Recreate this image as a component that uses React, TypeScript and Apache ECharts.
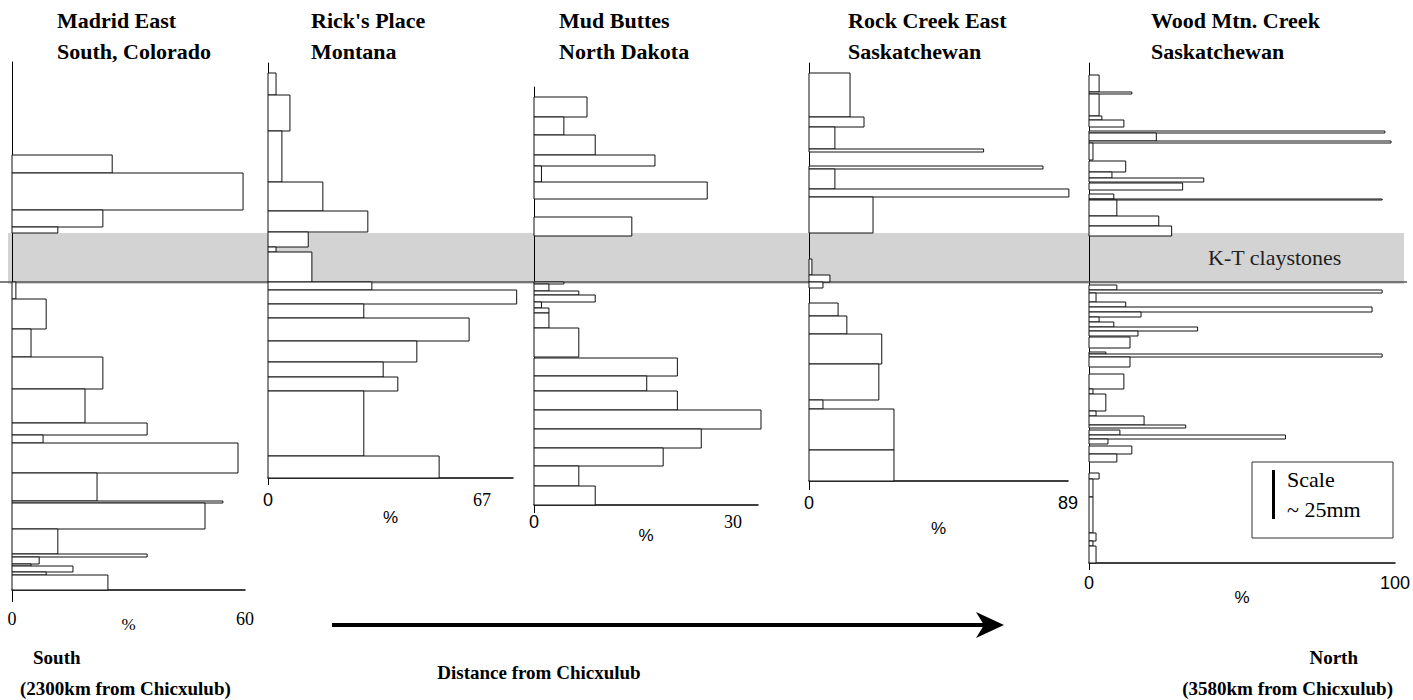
import React, { useEffect, useRef } from "react";
import * as echarts from "echarts";

// ---- data: each bar = [top height, base height, percent]; heights in units relative to the K-T boundary ----
const siteNames = [
  "Madrid East\nSouth, Colorado",
  "Rick's Place\nMontana",
  "Mud Buttes\nNorth Dakota",
  "Rock Creek East\nSaskatchewan",
  "Wood Mtn. Creek\nSaskatchewan",
];

const madridEast = [
  [63.5, 54.5, 25.8], [54.5, 36, 59.5], [36, 27.5, 23.4], [27.5, 24.5, 11.8],
  [0, -8.5, 1], [-8.5, -23.5, 8.8], [-23.5, -37.5, 4.9], [-37.5, -53.5, 23.4],
  [-53.5, -70.5, 18.8], [-70.5, -76.5, 34.8], [-76.5, -80.5, 8], [-80.5, -95.5, 58.2],
  [-95.5, -109.5, 21.9], [-109.5, -110.5, 54.3], [-110.5, -123.5, 49.7], [-123.5, -136, 11.8],
  [-136, -137.5, 34.8], [-137.5, -141, 7], [-141, -142, 4.9], [-142, -145, 15.7],
  [-145, -146.5, 8.8], [-146.5, -154, 24.7],
];

const ricksPlace = [
  [104.5, 93.5, 2.2], [93.5, 75.5, 6], [75.5, 50, 3.8], [50, 35.5, 15], [35.5, 25, 27.3],
  [25, 17.5, 11], [17.5, 15, 2.2], [15, 0, 12],
  [0, -4, 28.4], [-4, -11, 68], [-11, -18, 26.2], [-18, -29.5, 55], [-29.5, -40, 40.7],
  [-40, -47.5, 31.5], [-47.5, -54.5, 35.5], [-54.5, -87, 26.2], [-87, -98, 46.8],
];

const mudButtes = [
  [92.5, 82.5, 7.1], [82.5, 73.5, 4], [73.5, 63.5, 8.2], [63.5, 58, 16.2], [58, 50, 1],
  [50, 41.5, 23.2], [32.5, 23, 13.1],
  [0, -1, 4], [-1, -4.5, 2], [-4.5, -6.5, 6], [-6.5, -10, 8.2], [-10, -13, 1], [-13, -15.5, 2],
  [-15.5, -23, 2], [-23, -37.5, 6], [-38, -47, 19.2], [-47, -54.5, 15.1], [-54.5, -64, 19.2],
  [-64, -73.5, 30.4], [-73.5, -83, 22.4], [-83, -92, 17.3], [-92, -102, 6], [-102, -111.5, 8.2],
];

const rockCreekEast = [
  [104.5, 82.5, 14.1], [82.5, 77.5, 18.9], [77.5, 66.5, 8.9], [66.5, 65, 60], [58, 56.5, 80.4],
  [56.5, 46.5, 8.9], [46.5, 42.5, 89.3], [42.5, 24.5, 22], [11.5, 3.5, 1], [3.5, 0, 7.2],
  [0, -3, 4.8], [-10.5, -17, 10], [-17, -26, 13], [-26, -41, 25], [-41, -59, 24],
  [-59, -63.5, 4.8], [-63.5, -84, 29.2], [-84, -99.5, 29.2],
];

const woodMtnCreek = [
  [103.5, 95, 3.3], [95, 94, 14], [94, 83, 3.3], [83, 81, 4.2], [81, 77.5, 11.4],
  [75.5, 74.5, 96.7], [74.5, 70.5, 22], [70.5, 69.5, 98.7], [69.5, 61, 1.3], [60.5, 55, 12],
  [55, 52, 7.5], [52, 50, 37.5], [49.5, 46, 30.6], [44, 41.5, 8.1], [41.5, 41, 95.8],
  [41, 33, 9.1], [33, 28, 22.8], [28, 23, 27],
  [-1.5, -4, 9.1], [-4, -5.5, 95.8], [-5.5, -10, 2.3], [-10, -12.5, 12], [-12.5, -15, 92.5],
  [-15, -17.5, 17], [-17.5, -20, 3.3], [-20, -22.5, 8.1], [-22.5, -24.5, 35.5], [-24.5, -27, 16],
  [-27.5, -33, 13.4], [-35, -36, 5.5], [-36, -37.5, 95.8], [-37.5, -42.5, 13.4], [-46, -53.5, 11.4],
  [-53.5, -56, 1.3], [-56, -64.5, 5.5], [-64.5, -67, 2.3], [-67, -71.5, 18], [-71.5, -73, 31.6],
  [-74, -76.5, 10.1], [-76.5, -78.5, 64.2], [-78.5, -81, 6.2], [-82, -86, 14], [-86, -90, 9.1],
  [-95.5, -98.5, 3.3], [-98.5, -107.5, 1.3], [-107.5, -125.5, 1.3], [-125.5, -129.5, 2.3],
  [-129.5, -132, 1.3], [-132, -140.5, 2.3],
];

const siteData = [madridEast, ricksPlace, mudButtes, rockCreekEast, woodMtnCreek];
const axisTop = [110, 109.5, 97.5, 109.5, 109.5];
const axisBase = [-154, -98, -111.5, -99.5, -140.5];
const pctMax = [60, 67, 30, 89, 100];
const claystoneTop = 24.5;
const claystoneBase = -1;

// ---- layout ----
const KT_PX = 282;
const PX_PER_UNIT = 2;
const gridLeft = [12, 268, 534, 809, 1089];
const gridWidth = [233, 245, 224, 259, 307];
const titleLeft = [57, 311, 559, 848, 1151];
const labelMargin = [20, 13, 8, 13, 11];
const nameGap = [26, 31, 22, 39, 26];
const tickLen = [12, 7, 8, 9, 7];
const maxLabelPad = [0, 62, 50, 0, 0];
const zeroFont = ["Liberation Serif", "Liberation Sans", "Liberation Sans", "Liberation Sans", "Liberation Sans"];
const maxFont = ["Liberation Serif", "Liberation Serif", "Liberation Serif", "Liberation Sans", "Liberation Sans"];
const pctFont = ["Liberation Serif", "Liberation Sans", "Liberation Sans", "Liberation Sans", "Liberation Sans"];

const SERIF = "Liberation Serif";

export default function App() {
  const ref = useRef<HTMLDivElement>(null);

  useEffect(() => {
    if (!ref.current) return;
    const chart = echarts.init(ref.current, undefined, { renderer: "svg" });
    const toPx = (u: number) => KT_PX - u * PX_PER_UNIT;

    const grids = siteData.map((_, i) => ({
      left: gridLeft[i],
      width: gridWidth[i],
      top: toPx(axisTop[i]),
      height: (axisTop[i] - axisBase[i]) * PX_PER_UNIT,
      containLabel: false,
    }));

    const xAxes = siteData.map((_, i) => ({
      gridIndex: i,
      type: "value",
      min: 0,
      max: pctMax[i],
      interval: pctMax[i],
      splitLine: { show: false },
      axisLine: { show: true, onZero: false, lineStyle: { color: "#000", width: 1.5 } },
      axisTick: { show: true, customValues: [0], length: tickLen[i], lineStyle: { color: "#000", width: 1 } },
      axisLabel: {
        customValues: [0, pctMax[i]],
        margin: labelMargin[i],
        fontSize: 18,
        fontFamily: zeroFont[i],
        color: "#000",
        formatter: (v: number) => (v === 0 ? "{z|0}" : "{m|" + v + "}"),
        rich: {
          z: { fontFamily: zeroFont[i], fontSize: 18, color: "#000" },
          m: { fontFamily: maxFont[i], fontSize: 18, color: "#000", padding: [0, maxLabelPad[i], 0, 0] },
        },
      },
      name: "%",
      nameLocation: "middle",
      nameGap: nameGap[i],
      nameMoveOverlap: false,
      nameTextStyle: { fontFamily: pctFont[i], fontSize: 17, color: "#000", verticalAlign: "top" },
    }));

    const yAxes = siteData.map((_, i) => ({
      gridIndex: i,
      type: "value",
      min: axisBase[i],
      max: axisTop[i],
      splitLine: { show: false },
      axisLine: { show: true, onZero: false, lineStyle: { color: "#000", width: 1 } },
      axisTick: { show: false },
      axisLabel: { show: false },
    }));

    const series = siteData.map((data, i) => ({
      type: "custom",
      name: siteNames[i],
      xAxisIndex: i,
      yAxisIndex: i,
      clip: false,
      data,
      encode: { x: 2, y: [0, 1] },
      renderItem: (params: any, api: any) => {
        const top = api.value(0);
        const base = api.value(1);
        const pct = api.value(2);
        const p0 = api.coord([0, top]);
        const p1 = api.coord([pct, base]);
        return {
          type: "rect",
          shape: { x: p0[0], y: p0[1], width: p1[0] - p0[0], height: p1[1] - p0[1] },
          style: { fill: "#fff", stroke: "#111", lineWidth: 1 },
        };
      },
    }));

    const titles = siteNames.map((t, i) => ({
      text: t,
      left: titleLeft[i],
      top: 5,
      padding: 0,
      textStyle: {
        fontFamily: SERIF,
        fontWeight: "bold",
        fontSize: 22,
        lineHeight: 31,
        color: "#000",
      },
    }));

    const bandTop = toPx(claystoneTop);
    const bandBottom = toPx(claystoneBase);
    const ktLine = toPx(0);

    const boldText = (text: string, x: number, y: number, align: string) => ({
      type: "text",
      z: 10,
      style: {
        text,
        x,
        y,
        align,
        verticalAlign: "middle",
        font: "bold 19px 'Liberation Serif'",
        fill: "#000",
      },
    });

    const graphic = [
      {
        type: "rect",
        z: -5,
        shape: { x: 8, y: bandTop, width: 1396, height: bandBottom - bandTop },
        style: { fill: "#d3d3d3" },
      },
      {
        type: "line",
        z: 1,
        shape: { x1: 0, y1: ktLine, x2: 1407, y2: ktLine },
        style: { stroke: "#555", lineWidth: 1.5 },
      },
      {
        type: "text",
        z: 10,
        style: {
          text: "K-T claystones",
          x: 1208,
          y: (bandTop + ktLine) / 2,
          align: "left",
          verticalAlign: "middle",
          font: "22px 'Liberation Serif'",
          fill: "#222",
        },
      },
      {
        type: "rect",
        z: 10,
        shape: { x: 1252, y: 462, width: 141, height: 76 },
        style: { fill: "#fff", stroke: "#333", lineWidth: 1 },
      },
      {
        type: "rect",
        z: 11,
        shape: { x: 1272, y: 470, width: 3, height: 49 },
        style: { fill: "#000" },
      },
      {
        type: "text",
        z: 11,
        style: { text: "Scale", x: 1287, y: 479, align: "left", verticalAlign: "middle", font: "22px 'Liberation Serif'", fill: "#000" },
      },
      {
        type: "text",
        z: 11,
        style: { text: "~ 25mm", x: 1287, y: 509, align: "left", verticalAlign: "middle", font: "22px 'Liberation Serif'", fill: "#000" },
      },
      {
        type: "line",
        z: 10,
        shape: { x1: 332, y1: 625, x2: 985, y2: 625 },
        style: { stroke: "#000", lineWidth: 4 },
      },
      {
        type: "polygon",
        z: 10,
        shape: { points: [[976, 612], [1004, 625], [976, 638], [984, 625]] },
        style: { fill: "#000" },
      },
      boldText("South", 33, 657, "left"),
      boldText("(2300km from Chicxulub)", 20, 688, "left"),
      boldText("Distance from Chicxulub", 539, 672, "center"),
      boldText("North", 1358, 657, "right"),
      boldText("(3580km from Chicxulub)", 1393, 688, "right"),
    ];

    chart.setOption({
      animation: false,
      backgroundColor: "#fff",
      title: titles,
      grid: grids,
      xAxis: xAxes,
      yAxis: yAxes,
      series,
      graphic,
    } as any);

    return () => chart.dispose();
  }, []);

  return (
    <div
      ref={ref}
      style={{ position: "absolute", left: 0, top: 0, width: 1413, height: 700 }}
    />
  );
}
